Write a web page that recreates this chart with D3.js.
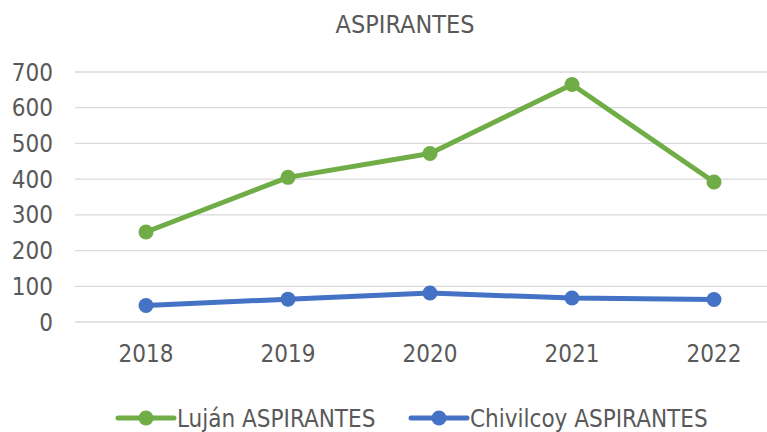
<!DOCTYPE html>
<html>
<head>
<meta charset="utf-8">
<script src="https://cdn.jsdelivr.net/npm/d3@7"></script>
<style>
  html, body { margin: 0; padding: 0; background: #fff; }
  svg text { font-family: "DejaVu Sans Condensed", "DejaVu Sans", sans-serif; font-stretch: condensed; fill: #595959; }
</style>
</head>
<body>
<div id="chart"></div>
<script>
const years = ['2018', '2019', '2020', '2021', '2022'];
const lujan = [252, 405, 472, 665, 392];
const chivilcoy = [46, 64, 81, 67, 63];
const yTicks = [0, 100, 200, 300, 400, 500, 600, 700];

const series = [
  { name: 'Luján ASPIRANTES', values: lujan, color: '#70ad47' },
  { name: 'Chivilcoy ASPIRANTES', values: chivilcoy, color: '#4472c4' }
];

const W = 767, H = 432;
// the chart was laid out on a wider canvas and cropped on the right
const fullW = 810;
const margin = { top: 72, right: 25, bottom: 110, left: 75 };

const svg = d3.select('#chart').append('svg').attr('width', W).attr('height', H);

const x = d3.scalePoint().domain(years).range([margin.left, fullW - margin.right]).padding(0.5);
const y = d3.scaleLinear().domain([0, 700]).range([322, margin.top]);

// Title
svg.append('text')
  .attr('x', fullW / 2)
  .attr('y', 33)
  .attr('text-anchor', 'middle')
  .attr('font-size', '25px')
  .text('ASPIRANTES');

// Grid lines
svg.append('g')
  .selectAll('line')
  .data(yTicks)
  .join('line')
  .attr('x1', margin.left).attr('x2', fullW - margin.right)
  .attr('y1', d => y(d)).attr('y2', d => y(d))
  .attr('stroke', '#d9d9d9')
  .attr('stroke-width', 1.3);

// Y axis labels
svg.append('g')
  .selectAll('text')
  .data(yTicks)
  .join('text')
  .attr('x', 53)
  .attr('y', d => y(d))
  .attr('dy', '0.36em')
  .attr('text-anchor', 'end')
  .attr('font-size', '24px')
  .text(d => d);

// X axis labels
svg.append('g')
  .selectAll('text')
  .data(years)
  .join('text')
  .attr('x', d => x(d))
  .attr('y', 362)
  .attr('text-anchor', 'middle')
  .attr('font-size', '24px')
  .text(d => d);

// Lines and markers
const line = d3.line()
  .x((d, i) => x(years[i]))
  .y(d => y(d));

series.forEach(s => {
  svg.append('path')
    .datum(s.values)
    .attr('d', line)
    .attr('fill', 'none')
    .attr('stroke', s.color)
    .attr('stroke-width', 5)
    .attr('stroke-linejoin', 'round')
    .attr('stroke-linecap', 'round');

  svg.append('g')
    .selectAll('circle')
    .data(s.values)
    .join('circle')
    .attr('cx', (d, i) => x(years[i]))
    .attr('cy', d => y(d))
    .attr('r', 7.5)
    .attr('fill', s.color);
});

// Legend
const legendY = 418;
const legendX = [118, 411];
series.forEach((s, i) => {
  const g = svg.append('g').attr('transform', `translate(${legendX[i]},${legendY})`);
  g.append('line')
    .attr('x1', 0).attr('x2', 56)
    .attr('y1', 0).attr('y2', 0)
    .attr('stroke', s.color)
    .attr('stroke-width', 5)
    .attr('stroke-linecap', 'round');
  g.append('circle')
    .attr('cx', 28).attr('cy', 0)
    .attr('r', 7.5)
    .attr('fill', s.color);
  g.append('text')
    .attr('x', 59)
    .attr('y', 0)
    .attr('dy', '0.36em')
    .attr('font-size', '24px')
    .text(s.name);
});
</script>
</body>
</html>
